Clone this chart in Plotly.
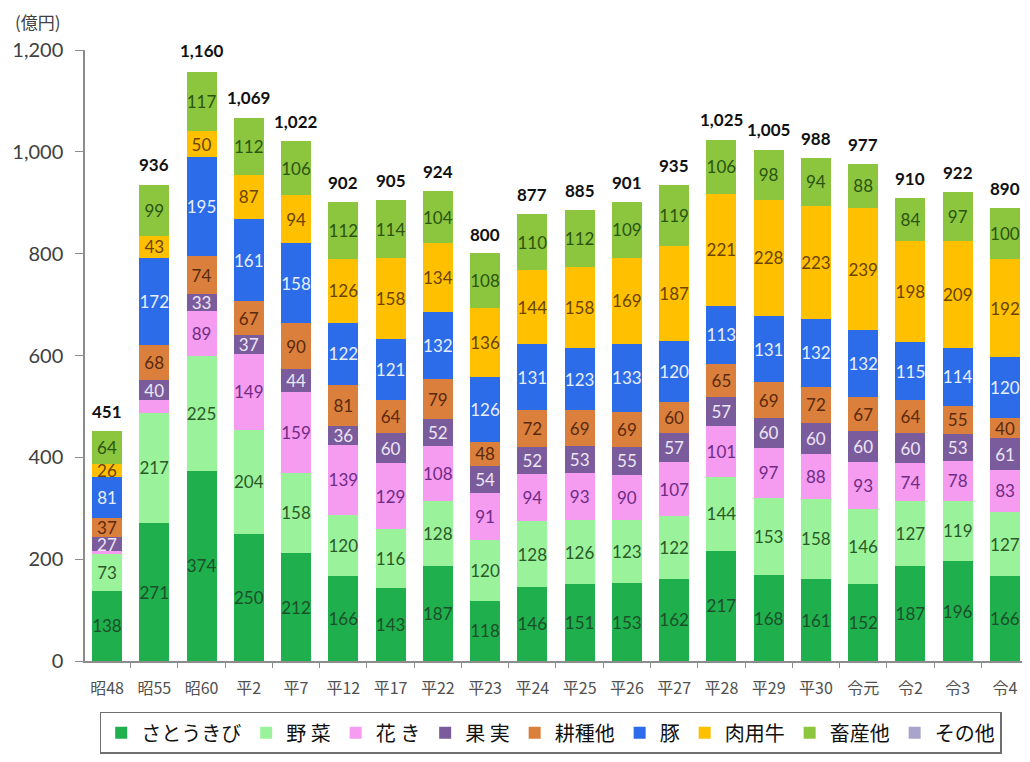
import plotly.graph_objects as go

categories = ["昭48", "昭55", "昭60", "平2", "平7", "平12", "平17", "平22", "平23", "平24",
              "平25", "平26", "平27", "平28", "平29", "平30", "令元", "令2", "令3", "令4"]

sugarcane = [138, 271, 374, 250, 212, 166, 143, 187, 118, 146, 151, 153, 162, 217, 168, 161, 152, 187, 196, 166]
vegetables = [73, 217, 225, 204, 158, 120, 116, 128, 120, 128, 126, 123, 122, 144, 153, 158, 146, 127, 119, 127]
flowers = [5, 24, 89, 149, 159, 139, 129, 108, 91, 94, 93, 90, 107, 101, 97, 88, 93, 74, 78, 83]
fruits = [27, 40, 33, 37, 44, 36, 60, 52, 54, 52, 53, 55, 57, 57, 60, 60, 60, 60, 53, 61]
crops_other = [37, 68, 74, 67, 90, 81, 64, 79, 48, 72, 69, 69, 60, 65, 69, 72, 67, 64, 55, 40]
pigs = [81, 172, 195, 161, 158, 122, 121, 132, 126, 131, 123, 133, 120, 113, 131, 132, 132, 115, 114, 120]
beef_cattle = [26, 43, 50, 87, 94, 126, 158, 134, 136, 144, 158, 169, 187, 221, 228, 223, 239, 198, 209, 192]
livestock_other = [64, 99, 117, 112, 106, 112, 114, 104, 108, 110, 112, 109, 119, 106, 98, 94, 88, 84, 97, 100]
others = [0, 0, 0, 0, 0, 0, 0, 0, 0, 0, 0, 0, 0, 0, 0, 0, 0, 0, 0, 0]
totals = [451, 936, 1160, 1069, 1022, 902, 905, 924, 800, 877, 885, 901, 935, 1025, 1005, 988, 977, 910, 922, 890]

series = [
    ("さとうきび", sugarcane, "#1FAF4C", "#1B4F2A"),
    ("野 菜", vegetables, "#9AF39A", "#2A5A2A"),
    ("花 き", flowers, "#F59BF0", "#6E2C86"),
    ("果 実", fruits, "#7A5C9C", "#EDE6F5"),
    ("耕種他", crops_other, "#DB7F3C", "#5A2A0E"),
    ("豚", pigs, "#2C6CE8", "#E6EEFF"),
    ("肉用牛", beef_cattle, "#FFC000", "#6A4400"),
    ("畜産他", livestock_other, "#8CC63F", "#2A5410"),
    ("その他", others, "#A8A4CC", "#404040"),
]

fig = go.Figure()
for name, vals, color, tcolor in series:
    if name == "その他":
        txt = ["" for v in vals]
    else:
        txt = [str(v) if v >= 25 else "" for v in vals]
    fig.add_trace(go.Bar(
        name=name, x=categories, y=vals, marker=dict(color=color, line=dict(width=0)),
        text=txt, textposition="inside", insidetextanchor="middle", textangle=0,
        constraintext="none",
        textfont=dict(family="Lato, Noto Sans", size=17, color=tcolor),
    ))

for c, t in zip(categories, totals):
    fig.add_annotation(x=c, y=t, text=f"<b>{t:,}</b>", showarrow=False,
                       yanchor="bottom", yshift=7,
                       font=dict(family="Lato, Noto Sans", size=17, color="#111111"))

fig.add_annotation(xref="paper", yref="paper", x=-0.0768, y=1.047, text="(億円)",
                   showarrow=False, xanchor="left", yanchor="middle",
                   font=dict(family="Noto Sans CJK JP", size=17, color="#404040"))

fig.update_layout(
    width=1014, height=746,
    barmode="stack", bargap=0.365,
    paper_bgcolor="white", plot_bgcolor="white",
    margin=dict(l=77, r=0, t=42, b=89),
    showlegend=True,
    legend=dict(orientation="h", x=0.497, xanchor="center", y=-0.083, yanchor="top",
                traceorder="normal", bordercolor="#6f6f6f", borderwidth=1.5,
                font=dict(family="Noto Sans CJK JP", size=20, color="#111111"),
                itemclick=False),
    xaxis=dict(range=[-0.4655, 19.36], showline=True, linecolor="#8c8c8c", linewidth=1.5,
               ticks="outside", tickson="boundaries", ticklen=5, tickcolor="#8c8c8c",
               ticklabelstandoff=12,
               tickfont=dict(family="Noto Sans CJK JP", size=16, color="#505050"),
               showgrid=False),
    yaxis=dict(range=[0, 1200], dtick=200, tickformat=",", showline=True,
               linecolor="#8c8c8c", linewidth=1.5, ticks="outside", ticklen=8,
               tickcolor="#8c8c8c", showgrid=False, zeroline=False,
               ticklabelstandoff=8,
               tickfont=dict(family="Lato, Noto Sans", size=20, color="#404040")),
)

fig.write_html("out.html")
